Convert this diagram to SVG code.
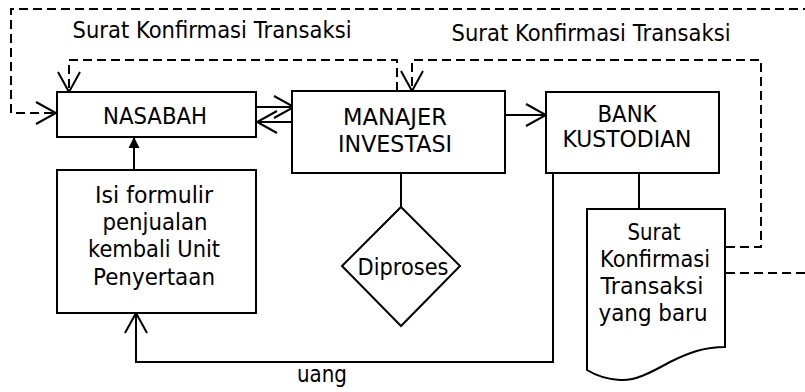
<svg xmlns="http://www.w3.org/2000/svg" width="805" height="392" viewBox="0 0 805 392">
<style>
  .box { fill: #fff; stroke: #000; stroke-width: 2; }
  .ln { fill: none; stroke: #000; stroke-width: 2; }
  .dash { fill: none; stroke: #000; stroke-width: 2; stroke-dasharray: 9 5; }
  .t { font-family: "DejaVu Sans", Verdana, sans-serif; font-size: 23px; fill: #000; text-anchor: middle; }
</style>
<defs>
  <marker id="open" viewBox="-22 -13 24 26" refX="0" refY="0" markerWidth="24" markerHeight="26" markerUnits="userSpaceOnUse" orient="auto">
    <path d="M-20,-11 L0,0 L-20,11" fill="none" stroke="#000" stroke-width="2"/>
  </marker>
  <marker id="solid" viewBox="-12 -7 13 14" refX="0" refY="0" markerWidth="13" markerHeight="14" markerUnits="userSpaceOnUse" orient="auto">
    <path d="M-11,-5.5 L0,0 L-11,5.5 Z" fill="#000"/>
  </marker>
</defs>
<rect width="805" height="392" fill="#fff"/>

<g id="connectors">
  <path class="dash" d="M726,273 L812,273 L812,9 L11,9 L11,113 L56,113" marker-end="url(#open)"/>
  <path class="dash" d="M726,247 L761,247 L761,60 L412,60 L412,91" marker-end="url(#open)"/>
  <path class="dash" d="M397,91 L397,60 L69,60 L69,92" marker-end="url(#open)"/>
  <path class="ln" d="M256,107 L294,107" marker-end="url(#open)"/>
  <path class="ln" d="M297,122 L257,122" marker-end="url(#open)"/>
  <path class="ln" d="M505,115 L546,115" marker-end="url(#open)"/>
  <path class="ln" d="M134,170 L134,137" marker-end="url(#solid)"/>
  <path class="ln" d="M401,173 L401,207"/>
  <path class="ln" d="M639,173 L639,209"/>
  <path class="ln" d="M553,173 L553,362 L136,362 L136,313" marker-end="url(#open)"/>
  <text class="t" x="212" y="38" textLength="279" lengthAdjust="spacingAndGlyphs">Surat Konfirmasi Transaksi</text>
  <text class="t" x="591" y="41" textLength="279" lengthAdjust="spacingAndGlyphs">Surat Konfirmasi Transaksi</text>
  <text class="t" x="322" y="382" textLength="50" lengthAdjust="spacingAndGlyphs">uang</text>
</g>

<g id="nasabah">
  <rect class="box" x="57" y="92" width="199" height="45"/>
  <text class="t" x="155" y="124" textLength="104" lengthAdjust="spacingAndGlyphs">NASABAH</text>
</g>

<g id="manajer">
  <rect class="box" x="292" y="91" width="213" height="82"/>
  <text class="t" x="395" y="125" textLength="104" lengthAdjust="spacingAndGlyphs">MANAJER</text>
  <text class="t" x="395" y="152" textLength="114" lengthAdjust="spacingAndGlyphs">INVESTASI</text>
</g>

<g id="bank">
  <rect class="box" x="546" y="92" width="173" height="81"/>
  <text class="t" x="627" y="122" textLength="59" lengthAdjust="spacingAndGlyphs">BANK</text>
  <text class="t" x="627" y="147" textLength="129" lengthAdjust="spacingAndGlyphs">KUSTODIAN</text>
</g>

<g id="formulir">
  <rect class="box" x="57" y="170" width="199" height="143"/>
  <text class="t" x="154" y="203" textLength="118" lengthAdjust="spacingAndGlyphs">Isi formulir</text>
  <text class="t" x="155" y="230" textLength="105" lengthAdjust="spacingAndGlyphs">penjualan</text>
  <text class="t" x="154" y="257" textLength="132" lengthAdjust="spacingAndGlyphs">kembali Unit</text>
  <text class="t" x="154" y="285" textLength="122" lengthAdjust="spacingAndGlyphs">Penyertaan</text>
</g>

<g id="diproses">
  <polygon class="box" points="401,207 460,266 401,326 342,266"/>
  <text class="t" x="403" y="275" textLength="91" lengthAdjust="spacingAndGlyphs">Diproses</text>
</g>

<g id="dokumen">
  <path class="box" d="M587,209 L725,209 L725,347 C705,347 690,352 670,362 C650,373 635,381 620,380 C605,379 595,375 587,370 Z"/>
  <text class="t" x="654" y="240" textLength="53" lengthAdjust="spacingAndGlyphs">Surat</text>
  <text class="t" x="655" y="267" textLength="110" lengthAdjust="spacingAndGlyphs">Konfirmasi</text>
  <text class="t" x="652" y="294" textLength="103" lengthAdjust="spacingAndGlyphs">Transaksi</text>
  <text class="t" x="653" y="321" textLength="109" lengthAdjust="spacingAndGlyphs">yang baru</text>
</g>
</svg>
